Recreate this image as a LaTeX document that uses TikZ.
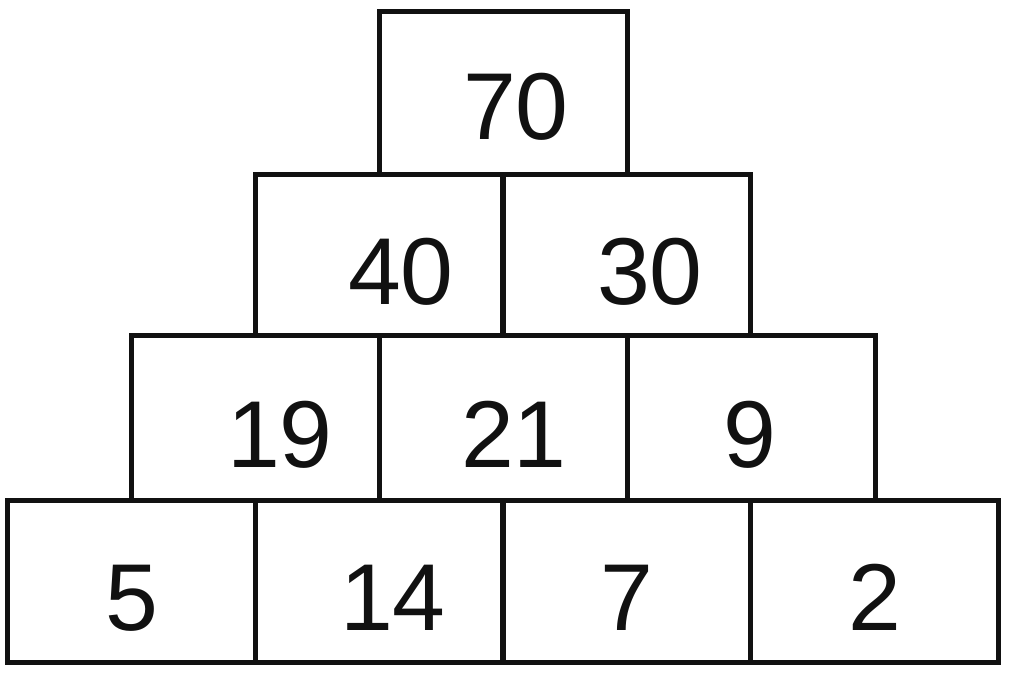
\documentclass[tikz,border=0pt]{standalone}
\usepackage{fontspec}
\setmainfont{Liberation Sans}
\definecolor{ink}{HTML}{111111}
\begin{document}
\begin{tikzpicture}[x=1pt,y=-1pt,
  cell/.style={draw=ink, line width=5pt, rectangle, inner sep=0pt, outer sep=0pt, minimum width=247.7pt},
  num/.style={anchor=base, inner sep=0pt, text=ink, font=\fontsize{95}{95}\selectfont}]
\useasboundingbox (0,0) rectangle (1009,675);
% top row
\node[cell, minimum height=163pt] (c70) at (503.6,92.5) {};
% row 2
\node[cell, minimum height=161pt] (c40) at (379.5,254.5) {};
\node[cell, minimum height=161pt] (c30) at (626.5,254.5) {};
% row 3
\node[cell, minimum height=165pt] (c19) at (255.2,417.5) {};
\node[cell, minimum height=165pt] (c21) at (503.5,417.5) {};
\node[cell, minimum height=165pt] (c9) at (751.8,417.5) {};
% row 4
\node[cell, minimum height=162pt] (c5) at (131.75,581) {};
\node[cell, minimum height=162pt] (c14) at (379.25,581) {};
\node[cell, minimum height=162pt] (c7) at (626.75,581) {};
\node[cell, minimum height=162pt] (c2) at (874.25,581) {};
% numbers
\node[num] (t70) at (516,139) {70};
\node[num] (t40) at (401,304) {40};
\node[num] (t30) at (650,304) {30};
\node[num] (t19) at (280,467) {19};
\node[num] (t21) at (514,467) {21};
\node[num] (t9) at (750,467) {9};
\node[num] (t5) at (132,630) {5};
\node[num] (t14) at (393,630) {14};
\node[num] (t7) at (626.7,630) {7};
\node[num] (t2) at (874.7,630) {2};
\end{tikzpicture}
\end{document}
